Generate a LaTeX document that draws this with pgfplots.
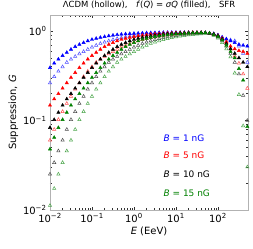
\documentclass[border=0pt]{standalone}
\usepackage{fontspec}
\setmainfont{DejaVu Sans}
\usepackage{pgfplots}
\usepackage{pgfplotstable}
\pgfplotsset{compat=1.18}
\definecolor{mgreen}{rgb}{0,0.5,0}
\pgfplotstableread{
E bF bH rF rH kF kH gF gH
0.01 0.3890 0.2630 0.1479 0.06026 0.0832 0.02512 0.0479 0.01122
0.012589 0.4365 0.3090 0.1738 0.07943 0.1023 0.03388 0.0646 0.01738
0.015849 0.4842 0.3548 0.1995 0.1023 0.1230 0.04571 0.0832 0.02512
0.019953 0.5309 0.3981 0.2291 0.1259 0.1479 0.06026 0.1023 0.03388
0.025119 0.5754 0.4467 0.2630 0.1549 0.1738 0.07943 0.1230 0.04571
0.031623 0.6237 0.4842 0.3020 0.1862 0.1995 0.1023 0.1479 0.06026
0.039811 0.6683 0.5188 0.3428 0.2239 0.2291 0.1259 0.1738 0.07943
0.050119 0.7079 0.5559 0.3890 0.2630 0.2630 0.1549 0.1995 0.1023
0.063096 0.7413 0.5888 0.4365 0.3090 0.3020 0.1862 0.2291 0.1259
0.079433 0.7762 0.6237 0.4842 0.3548 0.3428 0.2239 0.2630 0.1549
0.1 0.8035 0.6607 0.5309 0.3981 0.3890 0.2630 0.3020 0.1862
0.12589 0.8260 0.6918 0.5754 0.4467 0.4365 0.3090 0.3428 0.2239
0.15849 0.8472 0.7244 0.6237 0.4842 0.4842 0.3548 0.3890 0.2630
0.19953 0.8650 0.7499 0.6683 0.5188 0.5309 0.3981 0.4365 0.3090
0.25119 0.8810 0.7762 0.7079 0.5559 0.5754 0.4467 0.4842 0.3548
0.31623 0.8954 0.7998 0.7413 0.5888 0.6237 0.4842 0.5309 0.3981
0.39811 0.9078 0.8222 0.7762 0.6237 0.6683 0.5188 0.5754 0.4467
0.50119 0.9183 0.8414 0.8035 0.6607 0.7079 0.5559 0.6237 0.4842
0.63096 0.9268 0.8590 0.8260 0.6918 0.7413 0.5888 0.6683 0.5188
0.79433 0.9333 0.8750 0.8472 0.7244 0.7762 0.6237 0.7079 0.5559
1 0.9397 0.8892 0.8650 0.7499 0.8035 0.6607 0.7413 0.5888
1.2589 0.9441 0.9016 0.8810 0.7762 0.8260 0.6918 0.7762 0.6237
1.5849 0.9484 0.9120 0.8954 0.7998 0.8472 0.7244 0.8035 0.6607
1.9953 0.9528 0.9204 0.9078 0.8222 0.8650 0.7499 0.8260 0.6918
2.5119 0.9550 0.9290 0.9183 0.8414 0.8810 0.7762 0.8472 0.7244
3.1623 0.9570 0.9354 0.9268 0.8590 0.8954 0.7998 0.8650 0.7499
3.9811 0.9600 0.9419 0.9333 0.8750 0.9078 0.8222 0.8810 0.7762
5.0119 0.9620 0.9462 0.9397 0.8892 0.9183 0.8414 0.8954 0.7998
6.3096 0.9620 0.9506 0.9441 0.9016 0.9268 0.8590 0.9078 0.8222
7.9433 0.9620 0.9528 0.9484 0.9120 0.9333 0.8750 0.9183 0.8414
10 0.9620 0.9550 0.9528 0.9204 0.9397 0.8892 0.9268 0.8590
12.589 0.9620 0.9550 0.9550 0.9290 0.9441 0.9016 0.9333 0.8750
15.849 0.9620 0.9550 0.9570 0.9354 0.9484 0.9120 0.9397 0.8892
19.953 0.9620 0.9550 0.9600 0.9419 0.9528 0.9204 0.9441 0.9016
25.119 0.9600 0.9550 0.9620 0.9462 0.9550 0.9290 0.9484 0.9120
31.623 0.9580 0.9550 0.9620 0.9506 0.9570 0.9354 0.9528 0.9204
39.811 0.9570 0.9550 0.9600 0.9528 0.9600 0.9419 0.9550 0.9290
50.119 0.9550 0.9550 0.9550 0.9550 0.9550 0.9550 0.9550 0.9400
63.096 0.9440 0.9440 0.9440 0.9330 0.9440 0.9330 0.9440 0.9330
79.433 0.9330 0.9230 0.9230 0.9120 0.9230 0.9020 0.9120 0.8910
100 0.9020 0.8910 0.8910 0.8710 0.8810 0.8510 0.8710 0.8320
125.89 0.8510 0.8510 0.8320 0.8130 0.8130 0.7760 0.7940 0.7410
158.49 0.8130 0.8130 0.7590 0.7410 0.7240 0.6760 0.6920 0.6310
199.53 0.7760 0.7940 0.6760 0.6310 0.6310 0.5620 0.5890 0.5130
251.19 0.7410 0.7760 0.6310 0.5250 0.5620 0.4470 0.5010 0.3390
316.23 0.7080 0.6760 0.6030 0.4370 0.5010 0.3310 0.3800 0.1950
398.11 0.6920 0.5620 0.5890 0.3310 0.4470 0.1910 0.2820 0.0871
501.19 0.6760 0.4470 0.5620 0.2290 0.3980 0.1000 0.0851 0.0302
}\datatable
\begin{document}
\begin{tikzpicture}
\useasboundingbox (-50bp,-39bp) rectangle (203bp,210bp);
\begin{axis}[
  at={(0,0)}, anchor=south west,
  scale only axis, width=198bp, height=195bp,
  xmode=log, ymode=log,
  xmin=0.01, xmax=520, ymin=0.01, ymax=1.51,
  tick align=inside,
  axis line style={gray!60},
  major tick length=3.5bp, minor tick length=2bp,
  every tick/.style={black!80, line width=0.5pt},
  xtick={0.01,0.1,1,10,100},
  xticklabels={10\textsuperscript{−2},10\textsuperscript{−1},10\textsuperscript{0},10\textsuperscript{1},10\textsuperscript{2}},
  ytick={0.01,0.1,1},
  yticklabels={10\textsuperscript{−2},10\textsuperscript{−1},10\textsuperscript{0}},
  ticklabel style={font=\fontsize{10}{12}\selectfont},
  xlabel={\textit{E} (EeV)},
  ylabel={Suppression, \textit{G}},
  label style={font=\fontsize{10}{12}\selectfont},
  xlabel style={yshift=2bp},
  ylabel style={yshift=-2bp},
  title={ΛCDM (hollow),\quad \textit{f}(\textit{Q}) = \textit{σQ} (filled),\quad SFR},
  title style={font=\fontsize{8.5}{10}\selectfont, yshift=-3bp},
  mark size=1.9pt,
]
\addplot[only marks, mark=triangle, draw=blue!70, line width=0.5pt] table[x=E,y=bH] {\datatable};
\addplot[only marks, mark=triangle, draw=red!70, line width=0.5pt] table[x=E,y=rH] {\datatable};
\addplot[only marks, mark=triangle, draw=black!70, line width=0.5pt] table[x=E,y=kH] {\datatable};
\addplot[only marks, mark=triangle, draw=mgreen!70, line width=0.5pt] table[x=E,y=gH] {\datatable};
\addplot[only marks, mark=triangle*, draw=blue, fill=blue] table[x=E,y=bF] {\datatable};
\addplot[only marks, mark=triangle*, draw=red, fill=red] table[x=E,y=rF] {\datatable};
\addplot[only marks, mark=triangle*, draw=black, fill=black] table[x=E,y=kF] {\datatable};
\addplot[only marks, mark=triangle*, draw=mgreen, fill=mgreen] table[x=E,y=gF] {\datatable};
\node[anchor=west, text=blue, font=\fontsize{9}{10}\selectfont] at (axis cs:4.2,0.064) {\textit{B} = 1 nG};
\node[anchor=west, text=red, font=\fontsize{9}{10}\selectfont] at (axis cs:4.2,0.041) {\textit{B} = 5 nG};
\node[anchor=west, text=black, font=\fontsize{9}{10}\selectfont] at (axis cs:4.2,0.025) {\textit{B} = 10 nG};
\node[anchor=west, text=mgreen, font=\fontsize{9}{10}\selectfont] at (axis cs:4.2,0.0155) {\textit{B} = 15 nG};
\end{axis}
\end{tikzpicture}
\end{document}
